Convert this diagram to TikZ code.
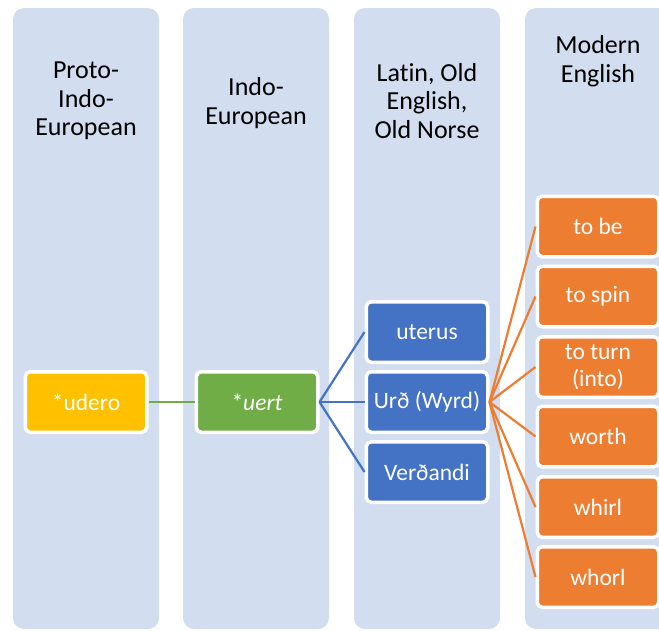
\documentclass[tikz,border=0pt]{standalone}
\usepackage{fontspec}
\setmainfont[Ligatures={NoCommon,NoContextual}]{Carlito}

\definecolor{colbg}{HTML}{D2DDEF}
\definecolor{pieyellow}{HTML}{FFC000}
\definecolor{iegreen}{HTML}{70AD47}
\definecolor{oldblue}{HTML}{4472C4}
\definecolor{modorange}{HTML}{ED7D31}

\tikzset{%
  column/.style ={fill=colbg, rounded corners=11pt},
  heading/.style={align=center, font=\fontsize{26}{28.5}\selectfont},
  word/.style   ={draw=white, line width=3.5pt, rounded corners=5pt, inner sep=0pt,
    minimum width=121.5pt, minimum height=60.5pt, align=center, text=white,
    font=\fontsize{23.5}{27}\selectfont},
  link/.style   ={line width=2.2pt},
}

\begin{document}
\begin{tikzpicture}[x=1pt, y=-1pt]
  \useasboundingbox (0, 0) rectangle (659, 630);
  \clip (0, 0) rectangle (659, 630);
  % columns
  \fill[column] (13, 8) rectangle (159, 629);
  \fill[column] (183, 8) rectangle (329, 629);
  \fill[column] (354, 8) rectangle (500, 629);
  \fill[column] (525, 8) rectangle (700, 629);
  \node[heading] (h1) at (86, 101) {Proto-\\Indo-\\European};
  \node[heading] (h2) at (256, 103) {Indo-\\European};
  \node[heading] (h3) at (427, 101) {Lat{}in, Old\\English,\\Old Norse};
  \node[heading] (h4) at (598, 61) {Modern\\English};
  % words
  \node[word, fill=pieyellow] (udero) at (86, 402) {*udero};
  \node[word, fill=iegreen] (uert) at (257, 402) {*\textit{uert}};
  \node[word, fill=oldblue] (uterus) at (427, 332) {uterus};
  \node[word, fill=oldblue] (urd) at (427, 402) {Urð (Wyrd)};
  \node[word, fill=oldblue] (verd) at (427, 472) {Verðandi};
  \node[word, fill=modorange] (tobe) at (598, 226.5) {to be};
  \node[word, fill=modorange] (tospin) at (598, 296.5) {to spin};
  \node[word, fill=modorange] (toturn) at (598, 367) {to turn\\(into)};
  \node[word, fill=modorange] (worth) at (598, 436.5) {worth};
  \node[word, fill=modorange] (whirl) at (598, 507) {whirl};
  \node[word, fill=modorange] (whorl) at (598, 577) {whorl};
  % links
  \draw[link, iegreen] (udero) -- (uert);
  \draw[link, oldblue] (uert.east) -- (uterus.west);
  \draw[link, oldblue] (uert.east) -- (urd.west);
  \draw[link, oldblue] (uert.east) -- (verd.west);
  \foreach \w in {tobe, tospin, toturn, worth, whirl, whorl}
    \draw[link, modorange] (urd.east) -- (\w.west);
\end{tikzpicture}
\end{document}
